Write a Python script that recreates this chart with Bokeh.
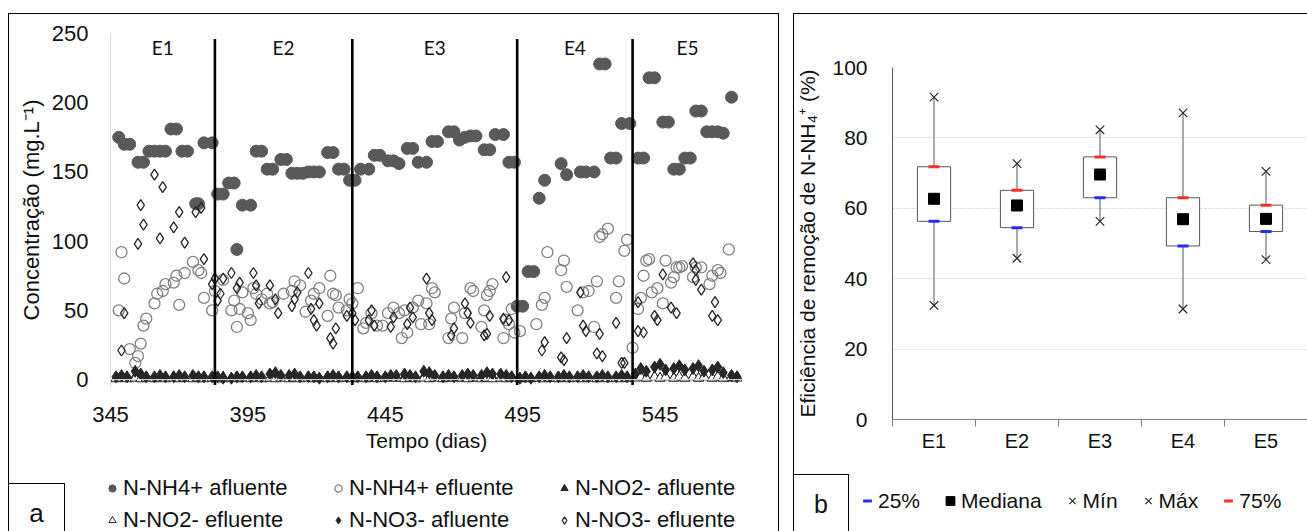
from bokeh.plotting import figure
from bokeh.models import Range1d, Span, Legend, LegendItem, FixedTicker, Div
from bokeh.layouts import row
from bokeh.embed import file_html
from bokeh.resources import INLINE
from bokeh.core.properties import value

FONT = "Liberation Sans"
TXT = "#111111"

# ---------------- data: panel a ----------------
x_ticks_a = [345, 395, 445, 495, 545]
y_ticks_a = [0, 50, 100, 150, 200, 250]
stage_names = ["E1", "E2", "E3", "E4", "E5"]
stage_edges = [345, 383, 433, 493, 535, 575]
series_a = ["N-NH4+ afluente", "N-NH4+ efluente", "N-NO2- afluente",
            "N-NO2- efluente", "N-NO3- afluente", "N-NO3- efluente"]

nh4_afl = [(348,175),(350,170),(352,170),(355,157),(357,157),(359,165),(361,165),(363,165),(365,165),
           (367,181),(369,181),(371,165),(373,165),(376,127),(377,127),(379,171),(382,171),(384,134),
           (386,134),(388,142),(390,142),(391,94),(393,126),(396,126),(398,165),(400,165),(402,152),
           (404,152),(407,159),(409,159),(411,149),(413,149),(415,149),(417,150),(419,150),(421,150),
           (424,164),(426,164),(428,152),(430,152),(432,144),(434,144),(436,152),(439,152),(441,162),
           (443,162),(446,158),(448,158),(450,156),(453,167),(455,167),(457,157),(460,157),(462,172),
           (464,172),(468,179),(470,179),(472,173),(474,175),(476,176),(478,176),(481,166),(483,166),
           (485,177),(488,177),(490,157),(492,157),(493,53),(495,53),(497,78),(499,78),(501,131),
           (503,144),(509,156),(511,148),(516,150),(518,150),(521,150),(523,228),(525,228),(527,160),
           (529,160),(531,185),(534,185),(537,160),(539,160),(541,218),(543,218),(546,186),(548,186),
           (550,152),(552,152),(554,160),(556,160),(558,194),(560,194),(562,179),(564,179),(566,179),
           (568,178),(571,204)]

nh4_efl = [(348,50),(349,92),(350,73),(352,22),(354,12),(355,17),(356,26),(357,39),(358,44),(361,55),
           (362,62),(364,64),(365,69),(368,70),(369,75),(370,54),(372,77),(375,85),(377,79),(378,77),
           (379,59),(382,50),(383,64),(386,72),(389,50),(390,57),(391,38),(392,51),(393,63),(395,48),
           (396,43),(397,66),(398,62),(400,58),(402,62),(403,55),(404,56),(408,62),(411,64),(412,71),
           (414,68),(416,49),(418,57),(419,62),(421,66),(424,46),(425,75),(426,62),(427,61),(428,52),
           (431,50),(432,58),(433,55),(435,66),(437,37),(438,41),(440,48),(442,39),(444,39),(446,48),
           (448,52),(450,48),(451,30),(452,50),(453,34),(455,52),(457,57),(458,40),(460,55),(461,40),
           (462,66),(463,63),(468,30),(469,44),(470,52),(473,30),(474,48),(476,66),(477,64),(480,38),
           (481,50),(482,61),(483,64),(484,69),(488,30),(489,43),(490,40),(491,51),(492,34),(494,35),
           (500,40),(502,54),(503,59),(504,92),(509,79),(510,86),(511,67),(515,50),(517,63),(519,64),
           (521,38),(522,71),(523,103),(524,105),(526,109),(529,59),(530,71),(532,93),(533,101),(535,23),
           (537,51),(538,59),(539,75),(540,86),(541,87),(542,63),(544,66),(546,55),(547,86),(549,70),
           (550,74),(551,81),(552,81),(553,82),(557,74),(558,81),(560,81),(563,69),(564,75),(566,79),
           (567,77),(570,94)]

no3_efl = [(349,21),(350,48),(355,98),(356,126),(357,112),(361,148),(363,102),(364,139),(368,110),
           (370,121),(372,99),(376,121),(378,124),(379,87),(382,69),(383,73),(384,57),(385,62),(386,73),
           (389,77),(391,66),(392,70),(397,77),(398,68),(399,55),(403,68),(405,58),(406,48),(411,53),
           (412,58),(413,63),(417,77),(418,51),(419,43),(420,39),(421,55),(425,30),(426,26),(427,37),
           (431,46),(433,48),(434,43),(439,43),(440,50),(441,39),(447,38),(448,45),(453,40),(454,52),
           (455,45),(460,73),(461,48),(462,43),(469,32),(470,37),(474,55),(475,48),(476,41),(481,32),
           (482,33),(483,46),(488,44),(489,74),(490,43),(502,21),(503,27),(509,16),(510,14),(511,30),
           (516,63),(517,39),(518,35),(522,19),(523,33),(524,17),(529,41),(531,12),(532,12),(537,56),
           (537,35),(539,34),(543,46),(544,43),(546,76),(549,52),(551,48),(557,84),(558,72),(558,79),
           (560,65),(564,46),(565,56),(566,43)]

low_days = [347,349,351, 354,356,358, 361,363,365, 368,370,372, 375,377,379, 382,384,386,
            389,391,393, 396,398,400, 403,405,407, 410,412,414, 417,419,421, 424,426,428,
            431,433,435, 438,440,442, 445,447,449, 452,454,456, 459,461,463, 466,468,470,
            473,475,477, 480,482,484, 487,489,491, 494,496,498, 501,503,505, 508,510,512,
            515,517,519, 522,524,526, 529,531,533, 536,538,540, 543,545,547, 550,552,554,
            557,559,561, 564,566,568, 571,573]
no2_afl_vals = [1,2,1, 2,1,2, 1,2,1, 2,1,1, 1,2,1, 1,1,2, 1,2,1, 2,1,1, 1,2,2, 1,2,1, 2,1,1, 2,1,2,
                1,2,1, 2,1,2, 1,2,1, 2,1,1, 2,1,2, 1,2,1, 1,2,1, 2,1,2, 1,1,2, 1,2,1, 2,1,1, 1,2,1,
                2,1,2, 1,2,1, 1,2,1, 2,2,1, 2,1,2, 1,2,1, 2,1,2, 1,2,1, 1,2]
no2_efl_vals = [0.5,1,0.5, 1,0.5,1, 0.5,1,0.5, 1,0.5,1, 0.5,1,0.5, 1,0.5,0.5, 1,0.5,1, 0.5,1,0.5,
                1,0.5,1, 0.5,1,0.5, 1,0.5,1, 0.5,1,0.5, 1,0.5,1, 0.5,1,0.5, 1,2,1, 0.5,1,0.5,
                1,0.5,1, 0.5,1,2, 1,0.5,1, 0.5,1,0.5, 1,0.5,1, 0.5,1,0.5, 1,0.5,1, 0.5,1,0.5,
                1,0.5,1, 0.5,1,0.5, 1,0.5,1, 1,2,1, 2,1,2, 1,2,1, 2,1,2, 1,2,1, 2,1]
no3_afl_vals = [2,3,2, 6,4,2, 2,3,2, 2,3,2, 3,2,2, 2,2,1, 1,2,2, 2,3,2, 4,5,3, 3,4,2, 2,2,1, 2,3,2,
                2,2,2, 2,3,2, 2,3,3, 4,3,2, 6,5,3, 2,3,2, 3,4,3, 3,5,4, 4,3,2, 1,2,1, 2,3,2, 2,3,2,
                2,3,2, 2,3,2, 2,3,2, 4,8,6, 9,11,7, 8,10,7, 8,10,6, 7,9,5, 3,2]

# ---------------- data: panel b ----------------
categories = ["E1", "E2", "E3", "E4", "E5"]
p25 = [56.3, 54.5, 63.0, 49.3, 53.4]
p75 = [71.8, 65.1, 74.6, 63.0, 60.9]
mediana = [62.7, 60.8, 69.6, 56.9, 57.0]
minimo = [32.4, 45.8, 56.3, 31.4, 45.4]
maximo = [91.6, 72.7, 82.3, 87.1, 70.5]
y_ticks_b = [0, 20, 40, 60, 80, 100]
series_b = ["25%", "Mediana", "Mín", "Máx", "75%"]

# ---------------- styles ----------------
STY_A = [dict(marker="circle", size=12, fill_color="#595959", line_color="#595959"),
         dict(marker="circle", size=11, fill_color=None, line_color="#808080", line_width=1.3),
         dict(marker="triangle", size=10, fill_color="#262626", line_color="#262626"),
         dict(marker="triangle", size=10, fill_color="white", line_color="#262626", line_width=1),
         dict(marker="diamond", size=12, fill_color="#262626", line_color="#262626"),
         dict(marker="diamond", size=11, fill_color=None, line_color="#262626", line_width=1.3)]
STY_B = [dict(marker="dash", size=11, line_color="#2a2aff", line_width=3),
         dict(marker="square", size=11, fill_color="black", line_color="black"),
         dict(marker="x", size=12, line_color="#262626", line_width=1.2),
         dict(marker="x", size=12, line_color="#262626", line_width=1.2),
         dict(marker="dash", size=11, line_color="#ff2a2a", line_width=3)]


def split(pairs):
    return [p[0] for p in pairs], [p[1] for p in pairs]


data_a = [split(nh4_afl), split(nh4_efl), (low_days, no2_afl_vals),
          (low_days, no2_efl_vals), (low_days, no3_afl_vals), split(no3_efl)]

# ================= panel a =================
pa = figure(width=771, height=518, output_backend="svg", toolbar_location=None,
            x_range=Range1d(345, 575), y_range=Range1d(-5, 250),
            min_border_left=102, min_border_right=37, min_border_top=20, min_border_bottom=145)
pa.margin = (13, 0, 0, 8)
pa.outline_line_color = None
pa.xgrid.visible = False
pa.ygrid.visible = False

xa = pa.xaxis[0]
xa.ticker = FixedTicker(ticks=x_ticks_a)
xa.major_tick_line_color = None
xa.minor_tick_line_color = None
xa.axis_line_color = None
xa.major_label_text_font = FONT
xa.major_label_text_font_size = "22px"
xa.major_label_text_color = TXT
xa.major_label_standoff = 14
xa.axis_label = "Tempo (dias)"
xa.axis_label_text_font = FONT
xa.axis_label_text_font_size = "21px"
xa.axis_label_text_font_style = "normal"
xa.axis_label_text_color = TXT
xa.axis_label_standoff = 4

ya = pa.yaxis[0]
ya.ticker = FixedTicker(ticks=y_ticks_a)
ya.major_tick_line_color = None
ya.minor_tick_line_color = None
ya.axis_line_color = "#d9d9d9"
ya.major_label_text_font = FONT
ya.major_label_text_font_size = "22px"
ya.major_label_text_color = TXT
ya.major_label_standoff = 16
ya.axis_label = "Concentração (mg.L⁻¹)"
ya.axis_label_text_font = FONT
ya.axis_label_text_font_size = "22px"
ya.axis_label_text_font_style = "normal"
ya.axis_label_text_color = TXT
ya.axis_label_standoff = 5

pa.add_layout(Span(location=0, dimension="width", line_color="#d9d9d9", line_width=1))

for (dx, dy), st in zip(data_a, STY_A):
    pa.scatter(dx, dy, **st)

bounds = stage_edges[1:-1]
pa.segment(x0=bounds, y0=[-4] * len(bounds), x1=bounds, y1=[246] * len(bounds),
           line_color="black", line_width=2.6)
mids = [(stage_edges[i] + stage_edges[i + 1]) / 2 for i in range(len(stage_names))]
pa.text(x=mids, y=[240] * len(mids), text=stage_names, text_align="center",
        text_baseline="middle", text_font=value("Lato"), text_font_size="19px", text_color=TXT)

# ================= panel b =================
xs = [i + 1 for i in range(len(categories))]
edges_b = [i + 0.5 for i in range(len(categories) + 1)]
data_b = [(xs, p25), (xs, mediana), (xs, minimo), (xs, maximo), (xs, p75)]

pb = figure(width=514, height=517, output_backend="svg", toolbar_location=None,
            x_range=Range1d(0.5, len(categories) + 0.5), y_range=Range1d(0, 100),
            min_border_left=94, min_border_right=0, min_border_top=20, min_border_bottom=145)
pb.margin = (47, 0, 0, 14)
pb.outline_line_color = None
pb.xgrid.visible = False
pb.ygrid.ticker = FixedTicker(ticks=y_ticks_b)
pb.ygrid.grid_line_color = "#d4d4d4"
pb.ygrid.grid_line_dash = "2 2"

xb = pb.xaxis[0]
xb.ticker = FixedTicker(ticks=xs, minor_ticks=edges_b)
xb.major_label_overrides = {float(x): c for x, c in zip(xs, categories)}
xb.major_tick_line_color = None
xb.minor_tick_line_color = "#7f7f7f"
xb.minor_tick_in = 0
xb.minor_tick_out = 7
xb.axis_line_color = "#7f7f7f"
xb.major_label_text_font = FONT
xb.major_label_text_font_size = "20px"
xb.major_label_text_color = TXT
xb.major_label_standoff = 3

yb = pb.yaxis[0]
yb.ticker = FixedTicker(ticks=y_ticks_b)
yb.major_tick_line_color = None
yb.minor_tick_line_color = None
yb.axis_line_color = "#595959"
yb.major_label_text_font = FONT
yb.major_label_text_font_size = "21px"
yb.major_label_text_color = TXT
yb.major_label_standoff = 19
yb.axis_label = "Eficiência de remoção de N-NH₄⁺ (%)"
yb.axis_label_text_font = FONT
yb.axis_label_text_font_size = "21px"
yb.axis_label_text_font_style = "normal"
yb.axis_label_text_color = TXT
yb.axis_label_standoff = 10

pb.segment(x0=xs, y0=minimo, x1=xs, y1=p25, line_color="#595959", line_width=1)
pb.segment(x0=xs, y0=p75, x1=xs, y1=maximo, line_color="#595959", line_width=1)
pb.vbar(x=xs, width=0.4, bottom=p25, top=p75, fill_color="white", line_color="#595959",
        line_width=1)
for (dx, dy), st in zip(data_b, STY_B):
    pb.scatter(dx, dy, **st)


# ================= legends (own small canvases, separate roots) =================
def legend_fig(left, top, width, height, names, styles, data, **kw):
    # the series are drawn again here only to feed the legend; the ranges keep them out of view
    lf = figure(width=width, height=height, output_backend="svg", toolbar_location=None,
                x_axis_type=None, y_axis_type=None, min_border=0,
                x_range=Range1d(-1e6, -1e6 + 1), y_range=Range1d(-1e6, -1e6 + 1))
    lf.outline_line_color = None
    lf.grid.visible = False
    lf.background_fill_alpha = 0
    lf.border_fill_alpha = 0
    items = []
    for name, st, (dx, dy) in zip(names, styles, data):
        r = lf.scatter(dx, dy, **st)
        items.append(LegendItem(label=name, renderers=[r]))
    lg = Legend(items=items, location="top_left", padding=0, margin=0,
                border_line_color=None, background_fill_alpha=0,
                label_text_font=FONT, label_text_color=TXT, **kw)
    lf.add_layout(lg)
    lf.styles = {"position": "absolute", "left": f"{left}px", "top": f"{top}px"}
    lf.margin = 0
    return lf


leg_a = legend_fig(103, 475, 660, 56, series_a, STY_A, data_a, orientation="horizontal",
                   ncols=3, glyph_width=18, glyph_height=18, label_standoff=2, label_width=200,
                   label_height=24, spacing=6, label_text_font_size="22px")
leg_b = legend_fig(856, 488, 451, 43, series_b, STY_B, data_b, orientation="horizontal",
                   glyph_width=22, glyph_height=25, label_standoff=0, spacing=19,
                   label_text_font_size="21px")


# ================= panel frames and letters (separate roots, decoration) =================
def box(left, top, width, height, text=None, size="26px"):
    st = {"position": "absolute", "left": f"{left}px", "top": f"{top}px",
          "width": f"{width}px", "height": f"{height}px", "border": "1px solid #000",
          "box-sizing": "border-box", "pointer-events": "none",
          "font-family": FONT, "font-size": size, "color": TXT,
          "text-align": "center", "line-height": f"{height - 2}px"}
    return Div(text=text or "", styles=st, margin=0)


frame_a = box(8, 13, 771, 560)
frame_b = box(793, 13, 600, 560)
tag_a = box(8, 483, 57, 60, "a", "26px")
tag_b = box(793, 474, 56, 60, "b", "25px")

layout = row(pa, pb)
open("out.html", "w").write(
    file_html([layout, leg_a, leg_b, frame_a, frame_b, tag_a, tag_b], INLINE))
